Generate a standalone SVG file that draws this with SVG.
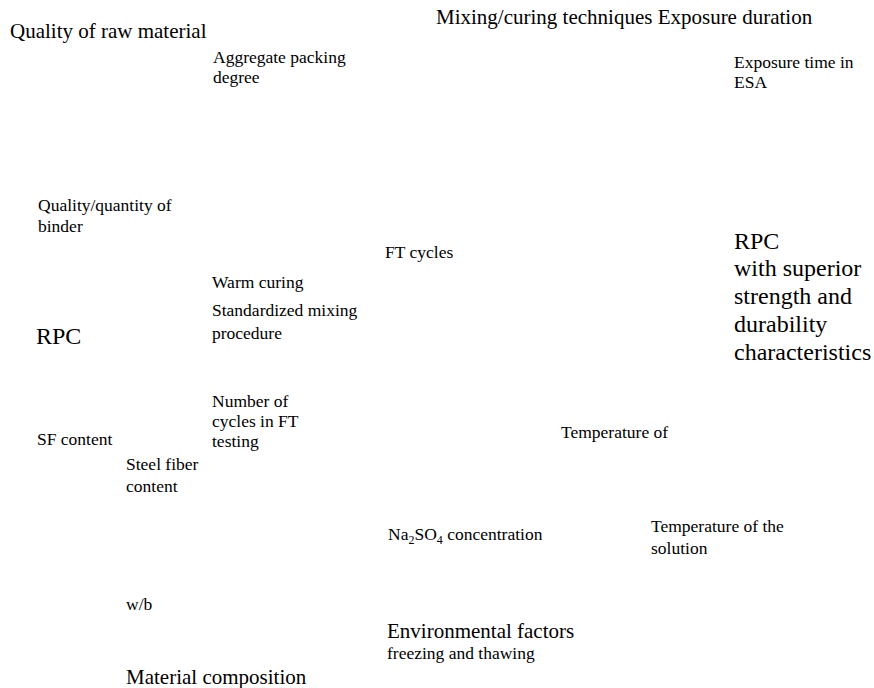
<svg xmlns="http://www.w3.org/2000/svg" width="874" height="688" viewBox="0 0 874 688">
<rect width="874" height="688" fill="#fff"/>
<g id="connectors"/>
<g id="n-quality-raw"><text font-family="Liberation Serif" font-size="21" x="10" y="38">Quality of raw material</text></g>
<g id="n-mixing"><text font-family="Liberation Serif" font-size="21" x="436" y="24">Mixing/curing techniques Exposure duration</text></g>
<g id="n-aggregate"><text font-family="Liberation Serif" font-size="17.5" x="213" y="63">Aggregate packing</text><text font-family="Liberation Serif" font-size="17.5" x="213" y="83">degree</text></g>
<g id="n-exposure"><text font-family="Liberation Serif" font-size="17.5" x="734" y="68">Exposure time in</text><text font-family="Liberation Serif" font-size="17.5" x="734" y="88">ESA</text></g>
<g id="n-binder"><text font-family="Liberation Serif" font-size="17.5" x="38" y="211">Quality/quantity of</text><text font-family="Liberation Serif" font-size="17.5" x="38" y="232">binder</text></g>
<g id="n-ft"><text font-family="Liberation Serif" font-size="17.5" x="385" y="258">FT cycles</text></g>
<g id="n-rpc-out"><text font-family="Liberation Serif" font-size="24" x="734" y="249">RPC</text><text font-family="Liberation Serif" font-size="24" x="734" y="276">with superior</text><text font-family="Liberation Serif" font-size="24" x="734" y="304">strength and</text><text font-family="Liberation Serif" font-size="24" x="734" y="332">durability</text><text font-family="Liberation Serif" font-size="24" x="734" y="360">characteristics</text></g>
<g id="n-warm"><text font-family="Liberation Serif" font-size="17.5" x="212" y="288">Warm curing</text></g>
<g id="n-mixing-proc"><text font-family="Liberation Serif" font-size="17.5" x="212" y="316">Standardized mixing</text><text font-family="Liberation Serif" font-size="17.5" x="212" y="339">procedure</text></g>
<g id="n-rpc"><text font-family="Liberation Serif" font-size="24" x="36" y="344">RPC</text></g>
<g id="n-cycles"><text font-family="Liberation Serif" font-size="17.5" x="212" y="407">Number of</text><text font-family="Liberation Serif" font-size="17.5" x="212" y="427">cycles in FT</text><text font-family="Liberation Serif" font-size="17.5" x="212" y="447">testing</text></g>
<g id="n-sf"><text font-family="Liberation Serif" font-size="17.5" x="37" y="445">SF content</text></g>
<g id="n-temp"><text font-family="Liberation Serif" font-size="17.5" x="561" y="438">Temperature of</text></g>
<g id="n-steel"><text font-family="Liberation Serif" font-size="17.5" x="126" y="470">Steel fiber</text><text font-family="Liberation Serif" font-size="17.5" x="126" y="492">content</text></g>
<g id="n-na"><text font-family="Liberation Serif" font-size="17.5" x="388" y="540">Na<tspan font-size="12" dy="4">2</tspan><tspan dy="-4">SO</tspan><tspan font-size="12" dy="4">4</tspan><tspan dy="-4"> concentration</tspan></text></g>
<g id="n-temp-sol"><text font-family="Liberation Serif" font-size="17.5" x="651" y="532">Temperature of the</text><text font-family="Liberation Serif" font-size="17.5" x="651" y="554">solution</text></g>
<g id="n-wb"><text font-family="Liberation Serif" font-size="17.5" x="126" y="610">w/b</text></g>
<g id="n-env"><text font-family="Liberation Serif" font-size="21" x="387" y="638">Environmental factors</text><text font-family="Liberation Serif" font-size="17.5" x="387" y="659">freezing and thawing</text></g>
<g id="n-material"><text font-family="Liberation Serif" font-size="21" x="126" y="684">Material composition</text></g>
</svg>
